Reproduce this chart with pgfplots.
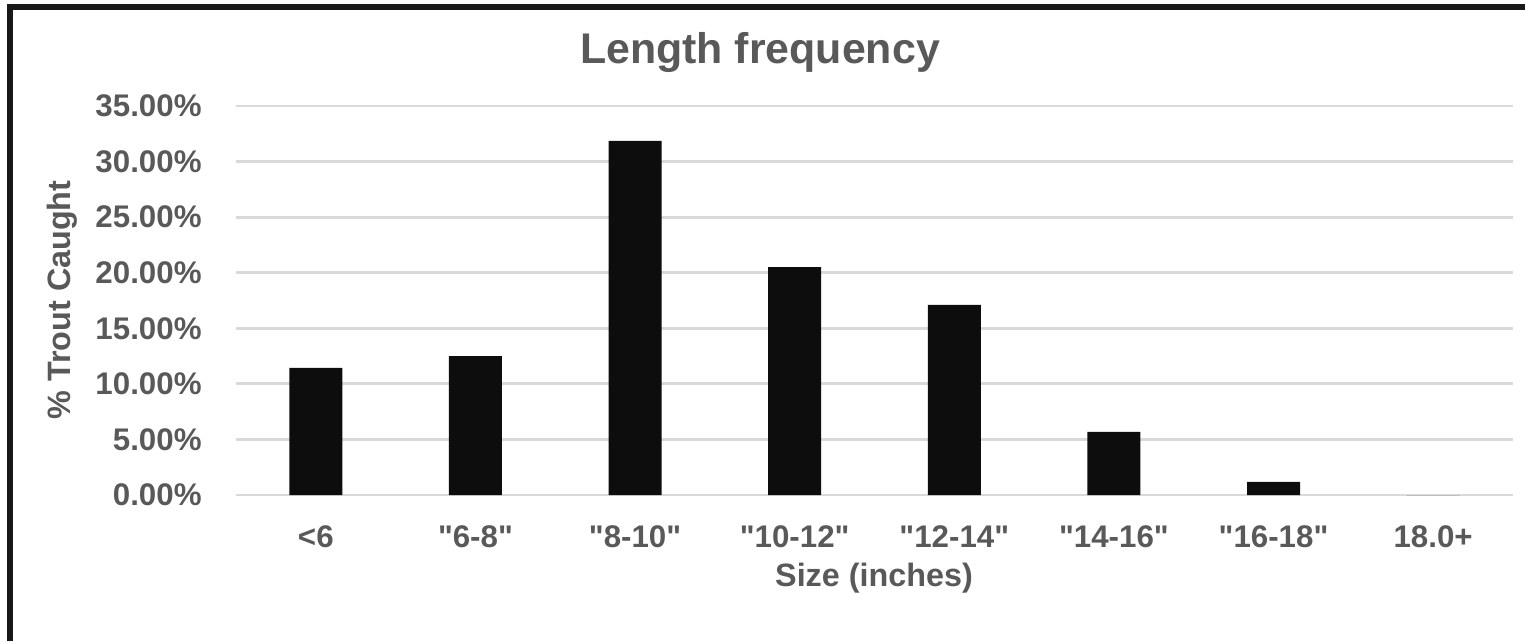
\documentclass[border=0pt]{standalone}
\usepackage{pgfplots}
\pgfplotsset{compat=1.18}
\usepackage{fontspec}
\setmainfont{Liberation Sans}[Ligatures=TeXOff]
\definecolor{txtgray}{RGB}{89,89,89}
\definecolor{gridgray}{RGB}{217,217,217}
\definecolor{barblack}{RGB}{13,13,13}

\begin{document}
\begin{tikzpicture}[x=1cm,y=1cm]
% page frame: 1525 x 641 px at 0.01 cm per px
\path[use as bounding box] (0,0) rectangle (15.25,6.41);
\draw[line width=1.6pt,black!90] (0.10,0) -- (0.10,6.34) -- (15.25,6.34);

\begin{axis}[
    at={(2.36cm,1.46cm)},
    anchor=south west,
    scale only axis,
    width=12.77cm,
    height=3.89cm,
    ybar,
    bar width=0.53cm,
    xmin=-0.5, xmax=7.5,
    ymin=0, ymax=35,
    xtick={0,...,7},
    xticklabels={{<6},{"6-8"},{"8-10"},{"10-12"},{"12-14"},{"14-16"},{"16-18"},{18.0+}},
    ytick={0,5,...,35},
    yticklabel={\pgfmathprintnumber[fixed,fixed zerofill,precision=2]{\tick}\%},
    /pgf/number format/assume math mode=true,
    axis line style={draw=none},
    major tick length=0pt,
    ymajorgrids,
    grid style={gridgray,line width=0.8pt},
    tick label style={font=\bfseries\fontsize{8.9}{10}\selectfont,text=txtgray},
    xticklabel style={yshift=-0.18cm},
    yticklabel style={xshift=-0.22cm},
]
\addplot[fill=barblack,draw=none] coordinates {
    (0,11.43) (1,12.50) (2,31.86) (3,20.50)
    (4,17.10) (5,5.67) (6,1.17) (7,0)
};
\end{axis}

\node[font=\bfseries\fontsize{12.2}{14}\selectfont,text=txtgray] at (7.60,5.88) {Length frequency};
\node[font=\bfseries\fontsize{9.2}{11}\selectfont,text=txtgray] at (8.74,0.63) {Size (inches)};
\node[font=\bfseries\fontsize{9.2}{11}\selectfont,text=txtgray,rotate=90] at (0.62,3.41) {\% Trout Caught};
\end{tikzpicture}
\end{document}
